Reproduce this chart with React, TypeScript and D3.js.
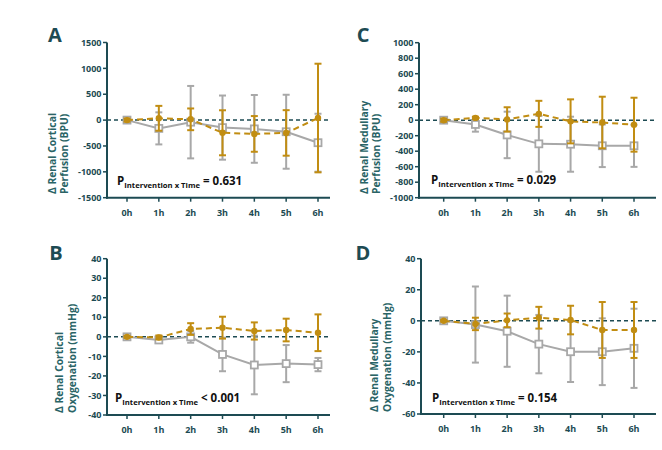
import React from "react";
import * as d3 from "d3";

const times = ["0h", "1h", "2h", "3h", "4h", "5h", "6h"];

// Panel A – renal cortical perfusion (BPU)
const ticksA = [-1500, -1000, -500, 0, 500, 1000, 1500];
const ctrlMeanA = [0, -160, -40, -145, -170, -225, -437];
const ctrlSdA = [40, 310, 700, 620, 655, 715, 560];
const intMeanA = [0, 35, 15, -245, -267, -248, 40];
const intSdA = [30, 240, 210, 435, 345, 440, 1050];

// Panel B – renal cortical oxygenation (mmHg)
const ticksB = [-40, -30, -20, -10, 0, 10, 20, 30, 40];
const ctrlMeanB = [0, -1.6, 0, -9, -14.4, -13.7, -14.2];
const ctrlSdB = [1, 1.5, 3, 8.6, 15, 9.5, 3.4];
const intMeanB = [0, -0.3, 4, 4.7, 3, 3.5, 2.1];
const intSdB = [0.5, 1, 3, 5.6, 4.4, 5.8, 9.4];

// Panel C – renal medullary perfusion (BPU)
const ticksC = [-1000, -800, -600, -400, -200, 0, 200, 400, 600, 800, 1000];
const ctrlMeanC = [0, -55, -190, -305, -310, -330, -330];
const ctrlSdC = [30, 93, 300, 360, 355, 275, 272];
const intMeanC = [0, 30, 10, 82, -15, -30, -58];
const intSdC = [20, 15, 157, 168, 284, 333, 348];

// Panel D – renal medullary oxygenation (mmHg)
const ticksD = [-60, -40, -20, 0, 20, 40];
const ctrlMeanD = [0, -2.4, -6.7, -15, -19.9, -19.9, -17.7];
const ctrlSdD = [1, 24.5, 22.9, 18.8, 19.5, 21.5, 25.5];
const intMeanD = [0, -2, 0.3, 2, 0.5, -5.9, -5.9];
const intSdD = [0.5, 4, 4.4, 7, 9.2, 18, 18];

const pValues = ["= 0.631", "< 0.001", "= 0.029", "= 0.154"];

const AXIS = "#1d4b53";
const TITLE = "#2a6466";
const GOLD = "#c18d12";
const GRAY = "#a8a8a8";
const FONT = "'Open Sans', 'DejaVu Sans', sans-serif";

type PanelProps = {
  letter: string;
  letterX: number;
  letterY: number;
  ticks: number[];
  axisX: number;
  yTop: number;
  yBottom: number;
  x0: number;
  x6: number;
  xEnd: number;
  title: string[];
  titleX: number[];
  titleBottom: number;
  pX: number;
  pY: number;
  pText: string;
  ctrlMean: number[];
  ctrlSd: number[];
  intMean: number[];
  intSd: number[];
};

function Panel(p: PanelProps) {
  const y = d3
    .scaleLinear()
    .domain([p.ticks[0], p.ticks[p.ticks.length - 1]])
    .range([p.yBottom, p.yTop]);
  const x = d3.scalePoint<string>().domain(times).range([p.x0, p.x6]);
  const line = d3
    .line<number>()
    .x((_, i) => x(times[i]) as number)
    .y((v) => y(v));
  const cap = 3.5;

  const errBars = (mean: number[], sd: number[], color: string) =>
    mean.map((m, i) => {
      const cx = x(times[i]) as number;
      const t = y(m + sd[i]);
      const b = y(m - sd[i]);
      return (
        <g key={i} stroke={color} strokeWidth={2}>
          <line x1={cx} x2={cx} y1={t} y2={b} />
          <line x1={cx - cap} x2={cx + cap} y1={t} y2={t} />
          <line x1={cx - cap} x2={cx + cap} y1={b} y2={b} />
        </g>
      );
    });

  return (
    <g>
      <text
        x={p.letterX}
        y={p.letterY}
        fontFamily={FONT}
        fontWeight={700}
        fontSize={20}
        fill={AXIS}
        textAnchor="middle"
      >
        {p.letter}
      </text>
      {/* y axis title */}
      {p.title.map((t, i) => (
        <text
          key={i}
          transform={`translate(${p.titleX[i]},${p.titleBottom}) rotate(-90)`}
          fontFamily={FONT}
          fontWeight={700}
          fontSize={10.3}
          fill={TITLE}
          textAnchor="start"
        >
          {t}
        </text>
      ))}
      {/* zero line */}
      <line
        x1={p.axisX}
        x2={p.xEnd}
        y1={y(0)}
        y2={y(0)}
        stroke={AXIS}
        strokeWidth={1.5}
        strokeDasharray="4,3"
      />
      {/* control series */}
      {errBars(p.ctrlMean, p.ctrlSd, GRAY)}
      <path d={line(p.ctrlMean) || ""} fill="none" stroke={GRAY} strokeWidth={2} />
      {p.ctrlMean.map((m, i) => (
        <rect
          key={i}
          x={(x(times[i]) as number) - 3.5}
          y={y(m) - 3.5}
          width={7}
          height={7}
          fill="#fff"
          stroke={GRAY}
          strokeWidth={1.8}
        />
      ))}
      {/* intervention series */}
      {errBars(p.intMean, p.intSd, GOLD)}
      <path
        d={line(p.intMean) || ""}
        fill="none"
        stroke={GOLD}
        strokeWidth={2}
        strokeDasharray="6,4"
      />
      {p.intMean.map((m, i) => (
        <circle key={i} cx={x(times[i]) as number} cy={y(m)} r={3.2} fill={GOLD} />
      ))}
      {/* axes */}
      <line x1={p.axisX} x2={p.axisX} y1={p.yTop} y2={p.yBottom + 1} stroke={AXIS} strokeWidth={2} />
      <line x1={p.axisX - 1} x2={p.xEnd} y1={p.yBottom} y2={p.yBottom} stroke={AXIS} strokeWidth={2} />
      {p.ticks.map((t) => (
        <g key={t}>
          <line x1={p.axisX - 4} x2={p.axisX} y1={y(t)} y2={y(t)} stroke={AXIS} strokeWidth={1.5} />
          <text
            x={p.axisX - 5.5}
            y={y(t)}
            dy="0.35em"
            textAnchor="end"
            fontFamily={FONT}
            fontWeight={700}
            fontSize={9}
            fill={AXIS}
          >
            {t}
          </text>
        </g>
      ))}
      {times.map((t) => (
        <g key={t}>
          <line
            x1={x(t) as number}
            x2={x(t) as number}
            y1={p.yBottom}
            y2={p.yBottom + 4}
            stroke={AXIS}
            strokeWidth={1.5}
          />
          <text
            x={x(t) as number}
            y={p.yBottom + 18}
            textAnchor="middle"
            fontFamily={FONT}
            fontWeight={700}
            fontSize={9}
            fill={AXIS}
          >
            {t}
          </text>
        </g>
      ))}
      {/* p value */}
      <text x={p.pX} y={p.pY} fontFamily={FONT} fontWeight={700} fill="#111" fontSize={11.5}>
        <tspan>P</tspan>
        <tspan fontSize={7.7} dy={3}>
          Intervention x Time
        </tspan>
        <tspan dy={-3}> {p.pText}</tspan>
      </text>
    </g>
  );
}

export default function App() {
  return (
    <svg width={662} height={450} style={{ display: "block", position: "absolute", left: 0, top: 0 }}>
      <rect width={662} height={450} fill="#fff" />
      <Panel
        letter="A"
        letterX={55}
        letterY={42}
        ticks={ticksA}
        axisX={107}
        yTop={42.5}
        yBottom={197.7}
        x0={127}
        x6={318}
        xEnd={330}
        title={["Δ Renal Cortical", "Perfusion (BPU)"]}
        titleX={[56, 68]}
        titleBottom={194}
        pX={117}
        pY={185}
        pText={pValues[0]}
        ctrlMean={ctrlMeanA}
        ctrlSd={ctrlSdA}
        intMean={intMeanA}
        intSd={intSdA}
      />
      <Panel
        letter="B"
        letterX={56}
        letterY={260}
        ticks={ticksB}
        axisX={107}
        yTop={258.7}
        yBottom={415}
        x0={127}
        x6={318}
        xEnd={330}
        title={["Δ Renal Cortical", "Oxygenation (mmHg)"]}
        titleX={[63, 76]}
        titleBottom={413}
        pX={115}
        pY={402}
        pText={pValues[1]}
        ctrlMean={ctrlMeanB}
        ctrlSd={ctrlSdB}
        intMean={intMeanB}
        intSd={intSdB}
      />
      <Panel
        letter="C"
        letterX={363}
        letterY={42}
        ticks={ticksC}
        axisX={419}
        yTop={42.7}
        yBottom={197.7}
        x0={443.7}
        x6={634}
        xEnd={656}
        title={["Δ Renal Medullary", "Perfusion (BPU)"]}
        titleX={[368, 380]}
        titleBottom={194}
        pX={431}
        pY={184}
        pText={pValues[2]}
        ctrlMean={ctrlMeanC}
        ctrlSd={ctrlSdC}
        intMean={intMeanC}
        intSd={intSdC}
      />
      <Panel
        letter="D"
        letterX={363}
        letterY={260}
        ticks={ticksD}
        axisX={421}
        yTop={258.7}
        yBottom={414}
        x0={443.7}
        x6={634}
        xEnd={656}
        title={["Δ Renal Medullary", "Oxygenation (mmHg)"]}
        titleX={[378, 391]}
        titleBottom={412}
        pX={432}
        pY={402}
        pText={pValues[3]}
        ctrlMean={ctrlMeanD}
        ctrlSd={ctrlSdD}
        intMean={intMeanD}
        intSd={intSdD}
      />
    </svg>
  );
}
